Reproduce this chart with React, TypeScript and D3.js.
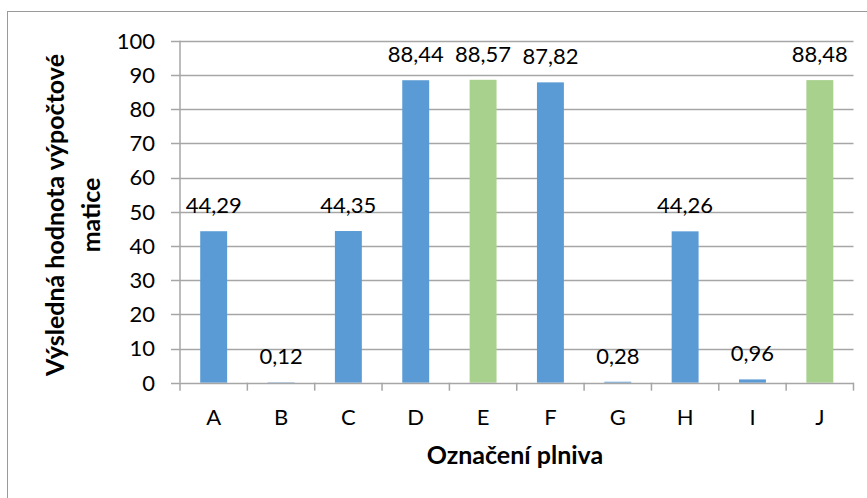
import React, { useEffect, useRef } from 'react';
import * as d3 from 'd3';

// Chart data
const categories = ['A', 'B', 'C', 'D', 'E', 'F', 'G', 'H', 'I', 'J'];
const values = [44.29, 0.12, 44.35, 88.44, 88.57, 87.82, 0.28, 44.26, 0.96, 88.48];
const highlighted = ['E', 'J'];
const yTicks = [0, 10, 20, 30, 40, 50, 60, 70, 80, 90, 100];

const BLUE = '#5b9bd5';
const GREEN = '#a9d18e';
const GRID = '#a6a6a6';
const FONT = 'Lato, "Open Sans", sans-serif';

const fmt = (v: number) => v.toFixed(2).replace('.', ',');

const App = () => {
  const svgRef = useRef<SVGSVGElement | null>(null);
  const width = 867;
  const height = 498;

  useEffect(() => {
    if (!svgRef.current) return;
    const svg = d3.select(svgRef.current);
    svg.selectAll('*').remove();

    const plot = { left: 180, right: 853.5, top: 40.7, bottom: 382.7 };

    const x = d3.scaleBand<string>()
      .domain(categories)
      .range([plot.left, plot.right])
      .paddingInner(0.6)
      .paddingOuter(0.3);

    const y = d3.scaleLinear()
      .domain([0, 100])
      .range([plot.bottom, plot.top]);

    // Outer chart border
    svg.append('rect')
      .attr('x', 7.5)
      .attr('y', 11.5)
      .attr('width', width)
      .attr('height', height)
      .attr('fill', 'white')
      .attr('stroke', '#9a9a9a')
      .attr('stroke-width', 1);

    // Grid lines
    svg.selectAll('.grid')
      .data(yTicks.filter(d => d > 0))
      .enter().append('line')
      .attr('x1', plot.left - 9)
      .attr('x2', plot.right)
      .attr('y1', d => Math.round(y(d)) + 0.5)
      .attr('y2', d => Math.round(y(d)) + 0.5)
      .attr('stroke', GRID)
      .attr('stroke-width', 1.5);

    // Bars
    svg.selectAll('.bar')
      .data(categories)
      .enter().append('rect')
      .attr('x', d => x(d) as number)
      .attr('width', x.bandwidth())
      .attr('y', (d, i) => y(values[i]))
      .attr('height', (d, i) => plot.bottom - y(values[i]))
      .attr('fill', d => (highlighted.includes(d) ? GREEN : BLUE));

    // Data labels
    svg.selectAll('.label')
      .data(categories)
      .enter().append('text')
      .attr('x', d => (x(d) as number) + x.bandwidth() / 2)
      .attr('y', (d, i) => y(values[i]) - 18)
      .attr('text-anchor', 'middle')
      .style('font-family', FONT)
      .style('font-size', '22px')
      .style('fill', '#000')
      .text((d, i) => fmt(values[i]));

    // Y axis line and ticks
    svg.append('line')
      .attr('x1', plot.left).attr('x2', plot.left)
      .attr('y1', plot.top).attr('y2', plot.bottom)
      .attr('stroke', GRID).attr('stroke-width', 1.5);

    svg.append('line')
      .attr('x1', plot.left - 9).attr('x2', plot.left)
      .attr('y1', Math.round(y(0)) + 0.5).attr('y2', Math.round(y(0)) + 0.5)
      .attr('stroke', GRID).attr('stroke-width', 1.5);

    svg.selectAll('.ytick')
      .data(yTicks)
      .enter().append('text')
      .attr('x', 155)
      .attr('y', d => y(d))
      .attr('dy', '0.36em')
      .attr('text-anchor', 'end')
      .style('font-family', FONT)
      .style('font-size', '22px')
      .style('fill', '#000')
      .text(d => d);

    // X axis line and boundary ticks
    svg.append('line')
      .attr('x1', plot.left).attr('x2', plot.right)
      .attr('y1', Math.round(y(0)) + 0.5).attr('y2', Math.round(y(0)) + 0.5)
      .attr('stroke', GRID).attr('stroke-width', 1.5);

    const step = x.step();
    const boundaries = d3.range(categories.length + 1).map(i => plot.left + i * step);
    svg.selectAll('.xtick')
      .data(boundaries)
      .enter().append('line')
      .attr('x1', d => d).attr('x2', d => d)
      .attr('y1', plot.bottom).attr('y2', plot.bottom + 8)
      .attr('stroke', GRID).attr('stroke-width', 1.5);

    svg.selectAll('.xlabel')
      .data(categories)
      .enter().append('text')
      .attr('x', d => (x(d) as number) + x.bandwidth() / 2)
      .attr('y', 425)
      .attr('text-anchor', 'middle')
      .style('font-family', FONT)
      .style('font-size', '22px')
      .style('fill', '#000')
      .text(d => d);

    // Axis titles
    svg.append('text')
      .attr('x', 515)
      .attr('y', 464)
      .attr('text-anchor', 'middle')
      .style('font-family', FONT)
      .style('font-size', '25px')
      .style('font-weight', '700')
      .style('fill', '#000')
      .text('Označení plniva');

    const yTitle = svg.append('text')
      .attr('transform', 'translate(0, 215) rotate(-90)')
      .attr('text-anchor', 'middle')
      .style('font-family', FONT)
      .style('font-size', '25px')
      .style('font-weight', '700')
      .style('fill', '#000');

    yTitle.append('tspan').attr('x', 0).attr('y', 64).text('Výsledná hodnota výpočtové');
    yTitle.append('tspan').attr('x', 0).attr('y', 100).text('matice');
  }, []);

  return (
    <svg
      ref={svgRef}
      width={width}
      height={height}
      style={{ position: 'absolute', left: 0, top: 0, background: 'white' }}
    />
  );
};

export default App;
